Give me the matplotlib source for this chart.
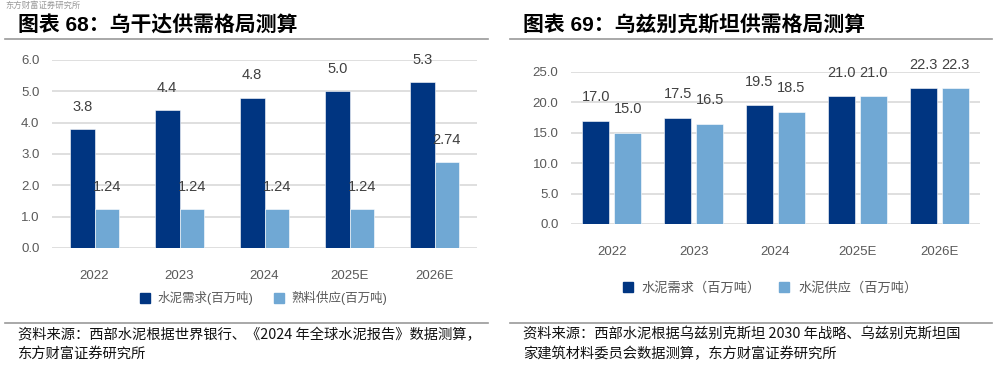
import numpy as np
import matplotlib.pyplot as plt
from matplotlib.lines import Line2D

plt.rcParams['font.family'] = ['Liberation Sans', 'Noto Sans CJK SC', 'DejaVu Sans']

# 数据
years = ['2022', '2023', '2024', '2025E', '2026E']
uganda_demand = [3.8, 4.4, 4.8, 5.0, 5.3]
uganda_supply = [1.24, 1.24, 1.24, 1.24, 2.74]
uzb_demand = [17.0, 17.5, 19.5, 21.0, 22.3]
uzb_supply = [15.0, 16.5, 18.5, 21.0, 22.3]

dark = '#003581'
light = '#70A8D4'
grid_c = '#D9D9D9'
tick_c = '#595959'
lab_c = '#404040'

W, H = 997, 366
fig = plt.figure(figsize=(W / 100, H / 100), dpi=100)


def fx(px):
    return px / W


def fy(py):
    return 1 - py / H


def style_axes(ax, ymax, step):
    ax.set_xlim(-0.5, len(years) - 0.5)
    ax.set_ylim(0, ymax)
    ax.set_yticks(np.arange(0, ymax + 0.01, step))
    ax.yaxis.set_major_formatter(plt.FormatStrFormatter('%.1f'))
    ax.grid(axis='y', color=grid_c, linewidth=1.2)
    ax.set_axisbelow(True)
    for s in ax.spines.values():
        s.set_visible(False)
    ax.tick_params(length=0, colors=tick_c, labelsize=9.5)
    ax.tick_params(axis='y', pad=9)
    ax.set_xticks(range(len(years)))
    ax.set_xticklabels(years)


# 左图：乌干达
ax1 = fig.add_axes([fx(52), fy(248), fx(477 - 52), fy(60) - fy(248)])
x = np.arange(len(years))
w = 0.29
b1 = ax1.bar(x - w / 2, uganda_demand, w, color=dark, edgecolor='white', linewidth=0.4)
b2 = ax1.bar(x + w / 2, uganda_supply, w, color=light, edgecolor='white', linewidth=0.4)
style_axes(ax1, 6.0, 1.0)
ax1.tick_params(axis='x', pad=16)
ax1.bar_label(b1, labels=['%.1f' % v for v in uganda_demand], padding=11, fontsize=10.5, color=lab_c)
ax1.bar_label(b2, labels=['%.2f' % v for v in uganda_supply], padding=11, fontsize=10.5, color=lab_c)

# 右图：乌兹别克斯坦
ax2 = fig.add_axes([fx(571), fy(224), fx(980 - 571), fy(72) - fy(224)])
w2 = 0.33
off = 0.195
c1 = ax2.bar(x - off, uzb_demand, w2, color=dark, edgecolor='white', linewidth=0.4)
c2 = ax2.bar(x + off, uzb_supply, w2, color=light, edgecolor='white', linewidth=0.4)
style_axes(ax2, 25.0, 5.0)
ax2.tick_params(axis='x', pad=16)
ax2.bar_label(c1, labels=['%.1f' % v for v in uzb_demand], padding=12, fontsize=10.5, color=lab_c)
ax2.bar_label(c2, labels=['%.1f' % v for v in uzb_supply], padding=12, fontsize=10.5, color=lab_c)

# 图例
h1 = [Line2D([], [], marker='s', linestyle='', color=dark, markersize=7),
      Line2D([], [], marker='s', linestyle='', color=light, markersize=7)]
fig.legend(h1, ['水泥需求(百万吨)', '熟料供应(百万吨)'], loc='center',
           bbox_to_anchor=(fx(260), fy(298)), ncol=2, frameon=False,
           fontsize=9, handletextpad=0.05, columnspacing=1.0, labelcolor=tick_c)
fig.legend(h1, ['水泥需求（百万吨）', '水泥供应（百万吨）'], loc='center',
           bbox_to_anchor=(fx(766), fy(288)), ncol=2, frameon=False,
           fontsize=9.5, handletextpad=0.05, columnspacing=0.8, labelcolor=tick_c)

# 标题和分隔线
fig.text(fx(18), fy(25), '图表 68：乌干达供需格局测算', fontsize=15, fontweight='bold',
         family=['Liberation Sans', 'Noto Sans CJK SC'], va='center', ha='left')
fig.text(fx(523), fy(25), '图表 69：乌兹别克斯坦供需格局测算', fontsize=15, fontweight='bold',
         family=['Liberation Sans', 'Noto Sans CJK SC'], va='center', ha='left')
for x0, x1 in [(5, 488), (510, 992)]:
    fig.add_artist(Line2D([fx(x0), fx(x1)], [fy(39), fy(39)], color='#999999', linewidth=1.2))
    fig.add_artist(Line2D([fx(x0), fx(x1)], [fy(323), fy(323)], color='#999999', linewidth=1.2))

# 资料来源
src_font = dict(fontsize=10.3, family=['Noto Sans CJK SC', 'DejaVu Sans'], va='center', ha='left', color='#111111')
fig.text(fx(18), fy(335), '资料来源：西部水泥根据世界银行、《2024 年全球水泥报告》数据测算，', **src_font)
fig.text(fx(18), fy(354), '东方财富证券研究所', **src_font)
fig.text(fx(523), fy(335), '资料来源：西部水泥根据乌兹别克斯坦 2030 年战略、乌兹别克斯坦国', **src_font)
fig.text(fx(523), fy(354), '家建筑材料委员会数据测算，东方财富证券研究所', **src_font)

# 顶部页眉
fig.text(fx(5), fy(5), '东方财富证券研究所', fontsize=6, family=['Noto Sans CJK SC'],
         color='#999999', va='center', ha='left')

fig.savefig('out.png', dpi=100)
